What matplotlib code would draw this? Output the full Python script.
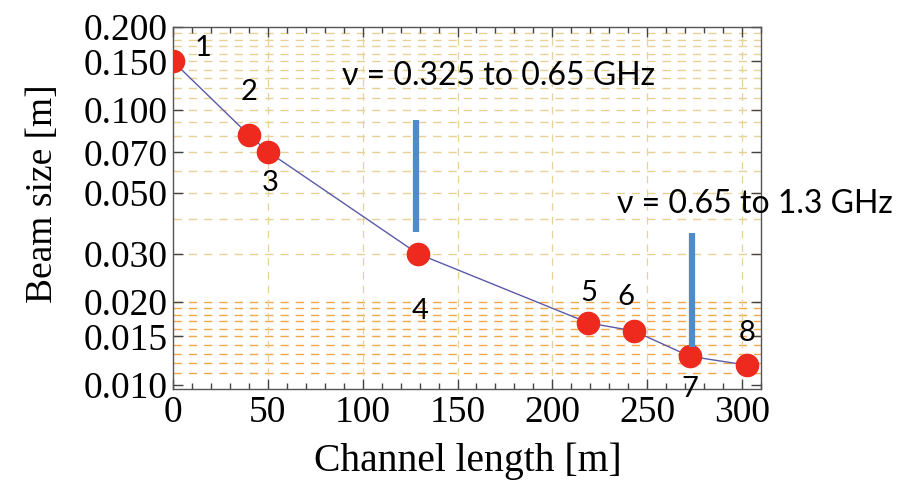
import numpy as np
import matplotlib
matplotlib.use("Agg")
import matplotlib.pyplot as plt
from matplotlib.ticker import FixedLocator, FixedFormatter, MultipleLocator, NullFormatter, NullLocator

# ---- data ----
channel_length = [0, 40, 50, 129, 219, 243, 272.5, 302.5]
beam_size = [0.150, 0.081, 0.0705, 0.030, 0.0168, 0.0157, 0.0127, 0.0118]
point_labels = ["1", "2", "3", "4", "5", "6", "7", "8"]

band_x = [128, 273.5]
band_lo = [0.036, 0.0137]
band_hi = [0.092, 0.0356]
band_text = ["ν = 0.325 to 0.65 GHz", "ν = 0.65 to 1.3 GHz"]

ytick_vals = [0.010, 0.015, 0.020, 0.030, 0.050, 0.070, 0.100, 0.150, 0.200]
ytick_labels = ["0.010", "0.015", "0.020", "0.030", "0.050", "0.070", "0.100", "0.150", "0.200"]
xtick_vals = [0, 50, 100, 150, 200, 250, 300]

# ---- figure ----
fig = plt.figure(figsize=(9.19, 4.86), dpi=100)
ax = fig.add_axes([173/919, 1-389/486, (761-173)/919, (389-27)/486])
ax.set_yscale("log")
ax.set_xlim(0, 310)
ax.set_ylim(0.00966, 0.2)

# grid lines
for v in np.arange(0.03, 0.195, 0.01):
    ax.axhline(v, color="#e6d196", lw=1.0, ls=(0, (6, 5)), zorder=0)
for v in np.arange(0.011, 0.0205, 0.001):
    ax.axhline(v, color="#f0a848", lw=1.0, ls=(0, (6, 5)), zorder=0)
for v in xtick_vals[1:]:
    ax.axvline(v, color="#e6d196", lw=0.9, ls=(0, (6, 5)), zorder=0)

ax.plot(channel_length, beam_size, color="#5a5aa8", lw=1.0, zorder=2)
ax.plot(channel_length, beam_size, "o", color="#ee2a1e", ms=16, mec="#ee2a1e", zorder=3)

for x, lo, hi in zip(band_x, band_lo, band_hi):
    ax.vlines(x, lo, hi, color="#4f8bc9", lw=4.5, zorder=4)

sans = ["Lato", "DejaVu Sans"]
lab_off = [(30, 13), (0, 43), (2, -31), (2, -57), (0, 30), (-8, 34), (0, -33), (0, 32)]
for x, y, t, (dx, dy) in zip(channel_length, beam_size, point_labels, lab_off):
    ax.annotate(t, (x, y), xytext=(dx, dy), textcoords="offset pixels",
                ha="center", va="center", fontsize=21, family=sans, zorder=5,
                annotation_clip=False)

ax.text(0.287, 1-(76-27)/362, band_text[0], transform=ax.transAxes,
        ha="left", va="center", fontsize=23, family=sans)
ax.text(0.755, 1-(204-27)/362, band_text[1], transform=ax.transAxes,
        ha="left", va="center", fontsize=23, family=sans, clip_on=False)

# ticks
ax.yaxis.set_major_locator(FixedLocator(ytick_vals))
ax.yaxis.set_major_formatter(FixedFormatter(ytick_labels))
ax.yaxis.set_minor_locator(NullLocator())
ax.yaxis.set_minor_formatter(NullFormatter())
ax.xaxis.set_major_locator(FixedLocator(xtick_vals))
ax.xaxis.set_minor_locator(MultipleLocator(10))
ax.tick_params(which="both", direction="in", top=True, right=True, colors="#444444",
               labelcolor="black", labelsize=27, width=1)
ax.tick_params(which="major", length=7)
ax.tick_params(axis="x", which="major", pad=5)
ax.tick_params(axis="y", which="major", pad=4)
ax.tick_params(which="minor", length=4)
for lab in ax.get_xticklabels() + ax.get_yticklabels():
    lab.set_family("Liberation Serif")
for s in ax.spines.values():
    s.set_color("#555555")
    s.set_linewidth(1.0)

ax.set_xlabel("Channel length [m]", family="Liberation Serif", fontsize=28.5)
ax.set_ylabel("Beam size [m]", family="Liberation Serif", fontsize=27)
ax.xaxis.set_label_coords(0.502, -0.148)
ax.yaxis.set_label_coords(-0.192, 0.54)

fig.savefig("out.png", dpi=100)
